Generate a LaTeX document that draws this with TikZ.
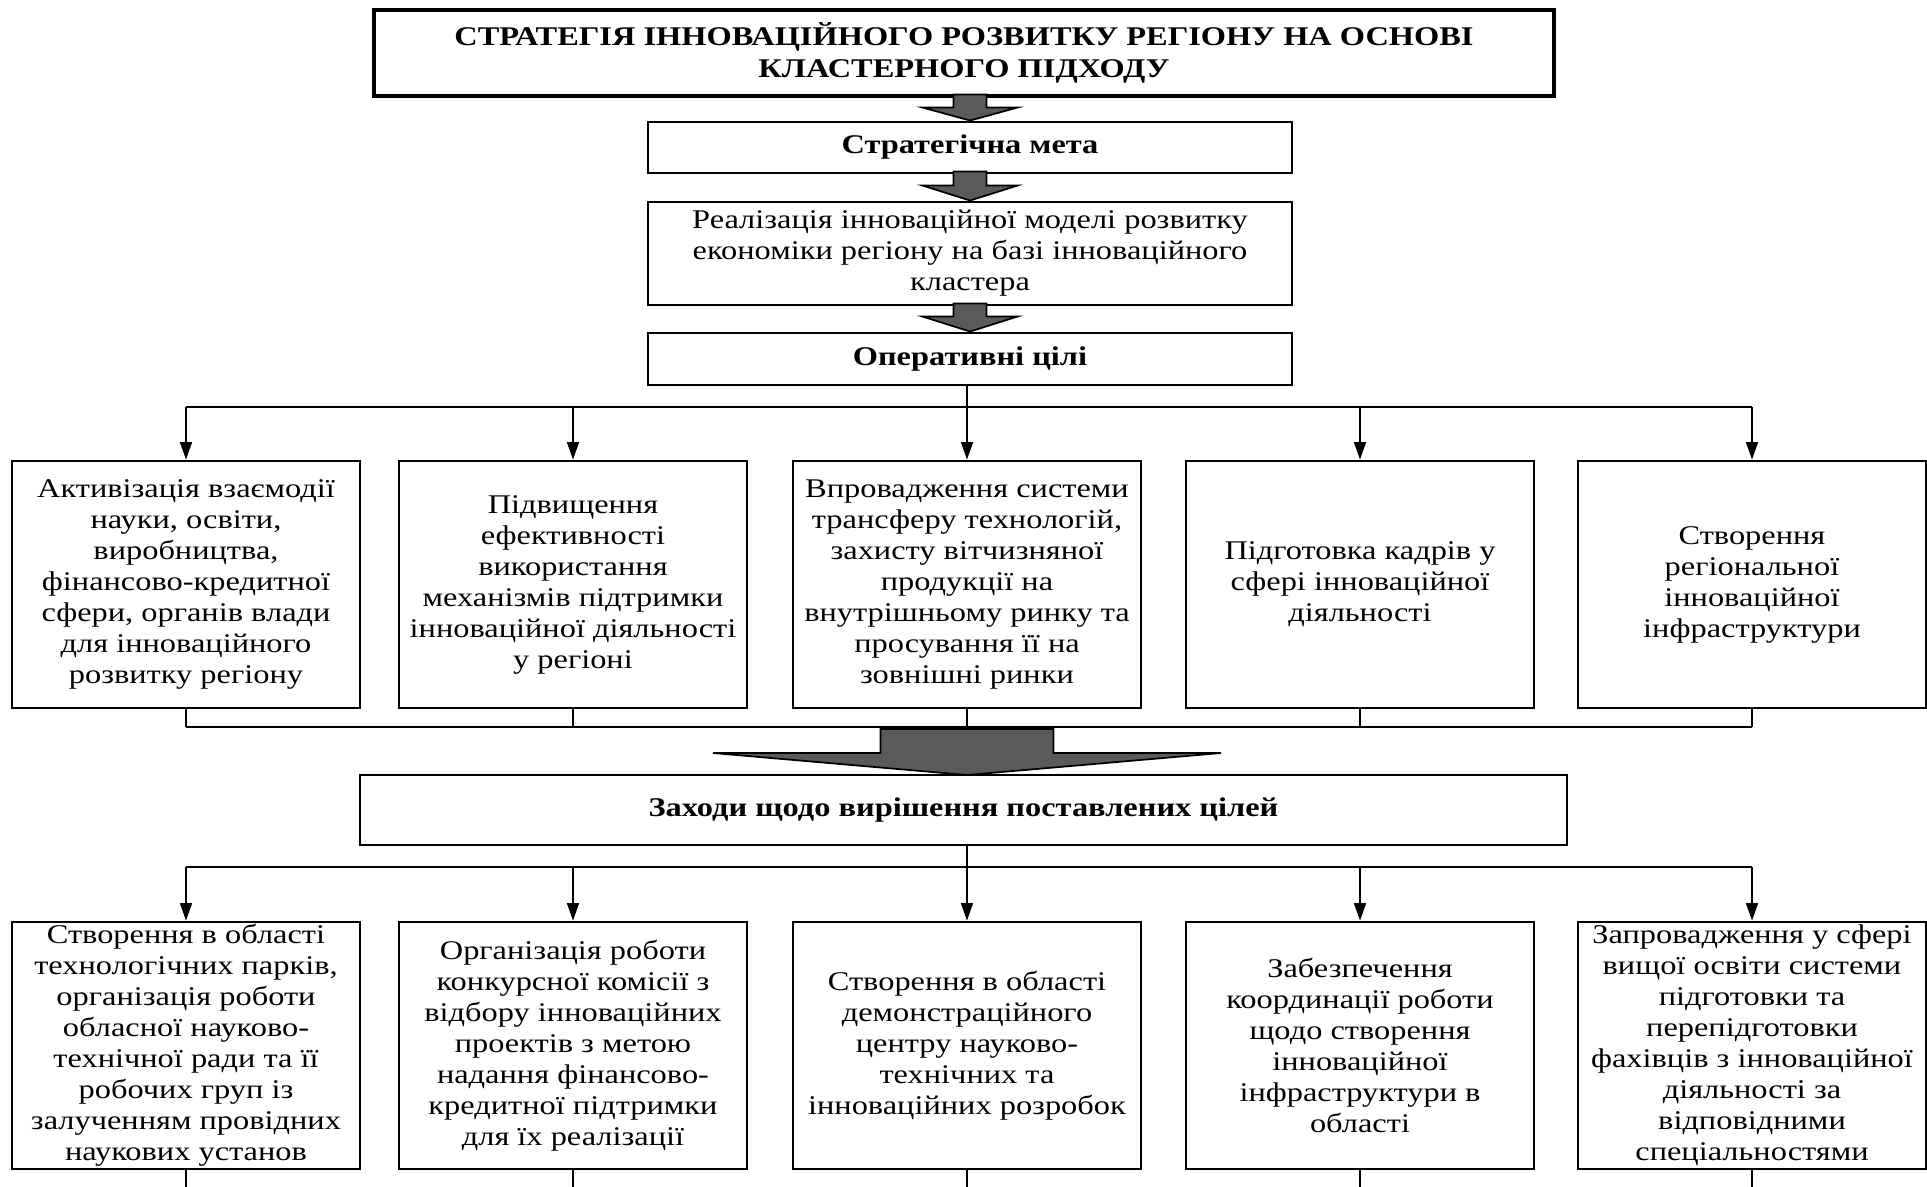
\documentclass[tikz,border=0pt]{standalone}
\usepackage{fontspec}
\setmainfont{Liberation Serif}[FakeStretch=1.2]
\usetikzlibrary{arrows.meta,calc}
\definecolor{arrgray}{RGB}{90,90,90}
\newcommand\rowfont{\fontsize{20.25pt}{23.25pt}\selectfont}
\newcommand\headfont{\fontsize{20.25pt}{24pt}\selectfont\bfseries}
\begin{document}
\begin{tikzpicture}[x=0.75pt,y=-0.75pt,
  box/.style={draw, line width=2.2pt, align=center, inner sep=0pt, font=\rowfont},
  hbox/.style={draw, line width=2.2pt, align=center, inner sep=0pt, font=\headfont},
  rowbox/.style={box, minimum width=261pt, minimum height=185.25pt},
  ln/.style={line width=0.9pt},
  arr/.style={ln, -{Triangle[width=9pt,length=13pt]}},
  blk/.style={draw=black, line width=1.3pt, fill=arrgray, line join=miter}]
\useasboundingbox (0,0) rectangle (1927,1186);
\fill[white] (0,0) rectangle (1927,1186);

% top boxes
\node[hbox, line width=3pt, minimum width=885pt, minimum height=64.5pt] (title) at (964,53)
  {СТРАТЕГІЯ ІННОВАЦІЙНОГО РОЗВИТКУ РЕГІОНУ НА ОСНОВІ\\КЛАСТЕРНОГО ПІДХОДУ};
\node[hbox, minimum width=483pt, minimum height=38.25pt] (meta) at (970,147.5) {Стратегічна мета};
\node[box, minimum width=483pt, minimum height=77.25pt] (real) at (970,253.5)
  {Реалізація інноваційної моделі розвитку\\економіки регіону на базі інноваційного\\кластера};
\node[hbox, minimum width=483pt, minimum height=39pt] (opc) at (970,359) {Оперативні цілі};

% block arrows
\draw[blk] (meta.north) -- ++(-47.5,-13) -- ++(31,0) -- ++(0,-13) -- ++(33,0) -- ++(0,13) -- ++(31,0) -- cycle;
\draw[blk] (real.north) -- ++(-47.5,-15) -- ++(31,0) -- ++(0,-14) -- ++(33,0) -- ++(0,14) -- ++(31,0) -- cycle;
\draw[blk] (opc.north) -- ++(-47.5,-15) -- ++(31,0) -- ++(0,-13) -- ++(33,0) -- ++(0,13) -- ++(31,0) -- cycle;

% row 1
\node[rowbox] (a1) at (186,584.5) {Активізація взаємодії\\науки, освіти,\\виробництва,\\фінансово-кредитної\\сфери, органів влади\\для інноваційного\\розвитку регіону};
\node[rowbox] (a2) at (573,584.5) {Підвищення\\ефективності\\використання\\механізмів підтримки\\інноваційної діяльності\\у регіоні};
\node[rowbox] (a3) at (967,584.5) {Впровадження системи\\трансферу технологій,\\захисту вітчизняної\\продукції на\\внутрішньому ринку та\\просування її на\\зовнішні ринки};
\node[rowbox] (a4) at (1360,584.5) {Підготовка кадрів у\\сфері інноваційної\\діяльності};
\node[rowbox] (a5) at (1752,584.5) {Створення\\регіональної\\інноваційної\\інфраструктури};

\coordinate (hub1) at (967,407);
\coordinate (bot1) at (967,727);
\draw[ln] (opc.south -| hub1) -- (hub1);
\draw[ln] (a1.north |- hub1) -- (a5.north |- hub1);
\foreach \n in {a1,a2,a3,a4,a5} {
  \draw[arr] (\n.north |- hub1) -- (\n.north);
  \draw[ln] (\n.south) -- (\n.south |- bot1);
}
\draw[ln] (a1.south |- bot1) -- (a5.south |- bot1);

% middle box
\node[hbox, minimum width=905.25pt, minimum height=52.5pt] (zah) at (963.5,810) {Заходи щодо вирішення поставлених цілей};
\coordinate (tip) at (967,775);
\draw[blk] (tip) -- ++(-254,-22) -- ++(167.5,0) -- ++(0,-24) -- ++(173,0) -- ++(0,24) -- ++(167.5,0) -- cycle;

% row 2
\node[rowbox] (b1) at (186,1045.5) {Створення в області\\технологічних парків,\\організація роботи\\обласної науково-\\технічної ради та її\\робочих груп із\\залученням провідних\\наукових установ};
\node[rowbox] (b2) at (573,1045.5) {Організація роботи\\конкурсної комісії з\\відбору інноваційних\\проектів з метою\\надання фінансово-\\кредитної підтримки\\для їх реалізації};
\node[rowbox] (b3) at (967,1045.5) {Створення в області\\демонстраційного\\центру науково-\\технічних та\\інноваційних розробок};
\node[rowbox] (b4) at (1360,1045.5) {Забезпечення\\координації роботи\\щодо створення\\інноваційної\\інфраструктури в\\області};
\node[rowbox] (b5) at (1752,1045.5) {Запровадження у сфері\\вищої освіти системи\\підготовки та\\перепідготовки\\фахівців з інноваційної\\діяльності за\\відповідними\\спеціальностями};

\coordinate (hub2) at (967,867);
\coordinate (bot2) at (967,1190);
\draw[ln] (zah.south -| hub2) -- (hub2);
\draw[ln] (b1.north |- hub2) -- (b5.north |- hub2);
\foreach \n in {b1,b2,b3,b4,b5} {
  \draw[arr] (\n.north |- hub2) -- (\n.north);
  \draw[ln] (\n.south) -- (\n.south |- bot2);
}
\end{tikzpicture}
\end{document}
